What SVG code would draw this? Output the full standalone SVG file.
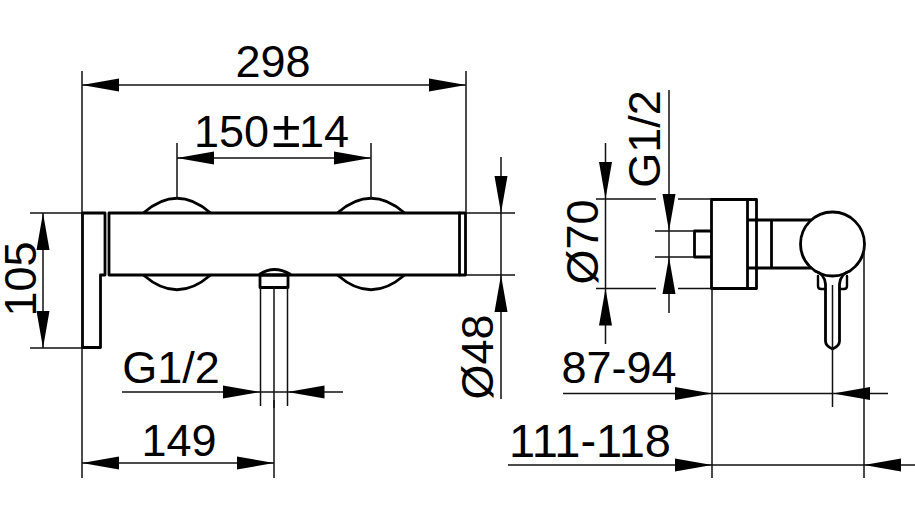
<svg xmlns="http://www.w3.org/2000/svg" width="915" height="523" viewBox="0 0 915 523">
<style>
.t{font-family:"Liberation Sans",Arial,sans-serif;font-size:45px;fill:#000}
.d{fill:none;stroke:#111;stroke-width:1.5}
.o{fill:none;stroke:#000;stroke-width:2.8;stroke-linejoin:round;stroke-linecap:round}
.a{fill:#000;stroke:none}
</style>
<rect width="915" height="523" fill="#fff"/>
<g id="front-view">
<path class="o" d="M82.500 213H105V275H100.500V347.500H82.500Z"/>
<path class="o" d="M109 213H465.500V275H109Z"/>
<path class="o" d="M459.500 213V275"/>
<path class="o" d="M144 212.500Q177 184 210 212.500M144 275.500Q177 304 210 275.500M338 212.500Q371 184 404 212.500M338 275.500Q371 304 404 275.500M260 274Q274 265 290 274"/>
<rect class="o" x="260" y="275" width="28" height="12.500"/>
<path class="d" d="M260.500 287V406M274 287V408M287.500 287V406"/>
</g>
<g id="side-view">
<path class="o" d="M711.500 199.500H756.500V288.500H711.500ZM747.500 199.500V288.500M747.500 220H811M747.500 268H811M771.500 220V268M711.500 231H694.500V257H711.500"/>
<circle class="o" cx="832.500" cy="244" r="32"/>
<path class="o" d="M815 271Q824 273 825.500 284V341Q825.500 346 832.500 349Q839.500 346 839.500 341V284Q841 273 850 271"/>
<path class="o" d="M818 276V286Q818 289 821 289H825.500M847 276V286Q847 289 844 289H839.500" style="stroke-width:2.4"/>
</g>
<g id="connectors">
<path class="d" d="M82 71V347M466 71V213M82 85H466"/>
<path class="d" d="M177 143V198M371 143V198M177 158H371"/>
<path class="d" d="M30 213H82M30 348H82M43 213V348"/>
<path class="d" d="M466 213H515M466 275H515M501 157V399"/>
<path class="d" d="M122 392H343"/>
<path class="d" d="M82 347V478M274 400V478M82 463H274"/>
<path class="d" d="M596 199H656M678 199H711M596 288.500H656M678 288.500H711M605.500 143V344"/>
<path class="d" d="M655 231H694M655 257H694M669 90V313"/>
<path class="d" d="M712 288V478M864 244V478M832.500 285V407M563 393.500H888M508 465H915"/>
<g class="a">
<path d="M82 85l37-6.500v13ZM466 85l-37-6.500v13Z"/>
<path d="M177 158l37-6.500v13ZM371 158l-37-6.500v13Z"/>
<path d="M43 213l-6.500 37h13ZM43 348l-6.500-37h13Z"/>
<path d="M501 213l-6.500-37h13ZM501 275l-6.500 37h13Z"/>
<path d="M260 392l-37-6.500v13ZM287.500 392l37-6.500v13Z"/>
<path d="M82 463l37-6.500v13ZM274 463l-37-6.500v13Z"/>
<path d="M605.500 199l-6.500-37h13ZM605.500 288.500l-6.500 37h13Z"/>
<path d="M669 231l-6.500-37h13ZM669 257l-6.500 37h13Z"/>
<path d="M712 393.500l-37-6.500v13ZM833 393.500l37-6.500v13Z"/>
<path d="M712 465l-37-6.500v13ZM864 465l37-6.500v13Z"/>
</g>
</g>
<g id="labels">
<text class="t" x="273" y="77" text-anchor="middle">298</text>
<text class="t" y="147"><tspan x="194">150</tspan><tspan x="272" style="font-size:52px">±</tspan><tspan x="299">14</tspan></text>
<text class="t" x="171" y="383" text-anchor="middle">G1/2</text>
<text class="t" x="179" y="456" text-anchor="middle">149</text>
<text class="t" x="619" y="383" text-anchor="middle">87-94</text>
<text class="t" x="590" y="457" text-anchor="middle" style="font-size:47px">111-118</text>
<text class="t" transform="translate(35.500 279) rotate(-90)" text-anchor="middle">105</text>
<text class="t" transform="translate(493 357) rotate(-90)" text-anchor="middle">Ø48</text>
<text class="t" transform="translate(598 242) rotate(-90)" text-anchor="middle">Ø70</text>
<text class="t" transform="translate(660 139) rotate(-90)" text-anchor="middle">G1/2</text>
</g>
</svg>
